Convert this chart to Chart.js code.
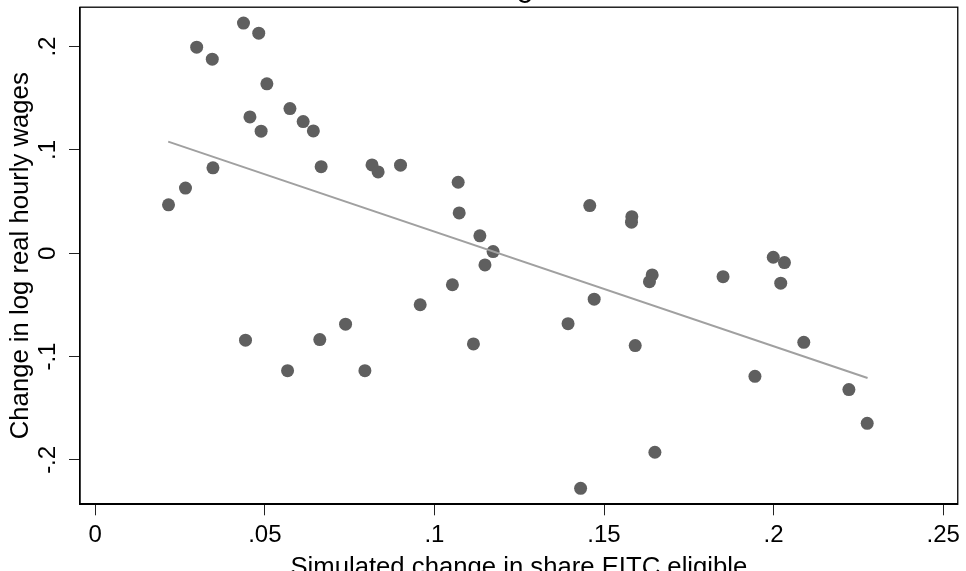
<!DOCTYPE html>
<html>
<head>
<meta charset="utf-8">
<title>Wages</title>
<script src="https://cdn.jsdelivr.net/npm/chart.js@4.4.1/dist/chart.umd.min.js"></script>
<style>
  html, body { margin: 0; padding: 0; background: #fff; overflow: hidden; }
  /* the picture is cropped: the title sits just above the window, the x title just below */
  #wrap { position: absolute; left: 0; top: -31px; width: 966px; height: 615px; }
</style>
</head>
<body>
<div id="wrap"><canvas id="wageChart"></canvas></div>
<script>
// Simulated change in share EITC eligible (x) and change in log real hourly wages (y)
const eitcShare = [0.0216, 0.0266, 0.0299, 0.0345, 0.0347, 0.0437, 0.0482, 0.0506, 0.0456, 0.0489,
                   0.0574, 0.0613, 0.0643, 0.0666, 0.0816, 0.0834, 0.0900, 0.1070, 0.1073, 0.1134,
                   0.1173, 0.1149, 0.1053, 0.0958, 0.0738, 0.0443, 0.0662, 0.0567, 0.0795, 0.1115,
                   0.1458, 0.1582, 0.1581, 0.1642, 0.1634, 0.1851, 0.1471, 0.1394, 0.1592, 0.1650,
                   0.1431, 0.1999, 0.2032, 0.2021, 0.2089, 0.1945, 0.2222, 0.2276];
const wageChange = [0.0468, 0.0630, 0.1994, 0.1878, 0.0826, 0.2227, 0.2130, 0.1639, 0.1319, 0.1181,
                    0.1400, 0.1274, 0.1184, 0.0838, 0.0855, 0.0787, 0.0852, 0.0687, 0.0390, 0.0168,
                    0.0016, -0.0113, -0.0305, -0.0499, -0.0687, -0.0842, -0.0836, -0.1137, -0.1137, -0.0878,
                    0.0461, 0.0354, 0.0300, -0.0210, -0.0275, -0.0227, -0.0445, -0.0682, -0.0894, -0.1926,
                    -0.2275, -0.0039, -0.0091, -0.0290, -0.0862, -0.1191, -0.1320, -0.1646];

// Fitted line, read at its two ends
const fitShare = [0.0215, 0.2277];
const fitWage = [0.1080, -0.1207];

// Axis ticks
const xTickValues = [0, 0.05, 0.1, 0.15, 0.2, 0.25];
const xTickLabels = ['0', '.05', '.1', '.15', '.2', '.25'];
const yTickValues = [-0.2, -0.1, 0, 0.1, 0.2];
const yTickLabels = ['-.2', '-.1', '0', '.1', '.2'];

const fontFamily = '"Liberation Sans", Arial, Helvetica, sans-serif';
Chart.defaults.font.family = fontFamily;
Chart.defaults.color = '#000';

// Stata style box round the plot region
const plotFrame = {
    id: 'plotFrame',
    beforeDatasetsDraw(chart) {
        const { ctx, chartArea: a } = chart;
        ctx.save();
        ctx.strokeStyle = '#000';
        ctx.lineWidth = 1.3;
        ctx.strokeRect(a.left, a.top, a.right - a.left, a.bottom - a.top);
        ctx.restore();
    }
};

const points = eitcShare.map((x, i) => ({ x: x, y: wageChange[i] }));
const fitLine = fitShare.map((x, i) => ({ x: x, y: fitWage[i] }));

const ctx = document.getElementById('wageChart').getContext('2d');
const wageChart = new Chart(ctx, {
    type: 'scatter',
    data: {
        datasets: [{
            label: 'Fitted values',
            data: fitLine,
            showLine: true,
            borderColor: '#a0a0a0',
            borderWidth: 2,
            pointRadius: 0
        }, {
            label: 'Change in log real hourly wages',
            data: points,
            backgroundColor: '#5f5f5f',
            borderWidth: 0,
            pointRadius: 6.5
        }]
    },
    options: {
        responsive: true,
        maintainAspectRatio: false,
        animation: false,
        events: [],
        layout: { padding: { left: 0, right: 6.3, top: 0, bottom: 0 }, autoPadding: false },
        plugins: {
            legend: { display: false },
            tooltip: { enabled: false },
            title: {
                display: true,
                text: 'Wages',
                fullSize: false,
                color: '#000',
                font: { size: 31, weight: 'normal' },
                padding: { top: 0, bottom: 1 }
            }
        },
        scales: {
            x: {
                type: 'linear',
                min: -0.0045,
                max: 0.2543,
                afterBuildTicks: function (scale) {
                    scale.ticks = xTickValues.map(v => ({ value: v }));
                },
                afterFit: function (scale) {
                    scale.height = 79.7;
                },
                ticks: {
                    autoSkip: false,
                    maxRotation: 0,
                    padding: 6,
                    font: { size: 24 },
                    color: '#000',
                    callback: function (value, index) {
                        return xTickLabels[index];
                    }
                },
                grid: { drawOnChartArea: false, drawTicks: true, tickLength: 11, tickColor: '#222', tickWidth: 1 },
                border: { display: true, color: '#000', width: 2 },
                title: {
                    display: true,
                    text: 'Simulated change in share EITC eligible',
                    color: '#000',
                    font: { size: 25.7 },
                    padding: { top: 0, bottom: 0.8 }
                }
            },
            y: {
                type: 'linear',
                min: -0.2430,
                max: 0.2381,
                afterBuildTicks: function (scale) {
                    scale.ticks = yTickValues.map(v => ({ value: v }));
                },
                afterFit: function (scale) {
                    scale.width = 80;
                },
                ticks: {
                    autoSkip: false,
                    minRotation: 90,
                    maxRotation: 90,
                    crossAlign: 'center',
                    padding: 6.6,
                    font: { size: 24 },
                    color: '#000',
                    callback: function (value, index) {
                        return yTickLabels[index];
                    }
                },
                grid: { drawOnChartArea: false, drawTicks: true, tickLength: 11, tickColor: '#222', tickWidth: 1 },
                border: { display: true, color: '#000', width: 1.3 },
                title: {
                    display: true,
                    text: 'Change in log real hourly wages',
                    color: '#000',
                    font: { size: 25.7 },
                    padding: { top: 5.2, bottom: 0 }
                }
            }
        }
    },
    plugins: [plotFrame]
});
</script>
</body>
</html>
